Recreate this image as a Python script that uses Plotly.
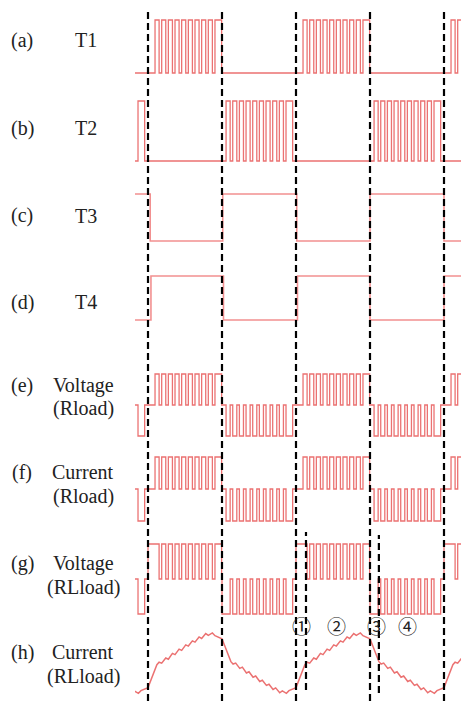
import plotly.graph_objects as go

# ---------------- data (time in half-periods; dashed lines at 0..4) ----------------
# one half-cycle PWM pattern of the upper switches
pulse_on = [0.095, 0.185, 0.275, 0.365, 0.455, 0.545, 0.635, 0.725, 0.815, 0.905]
pulse_off = [0.150, 0.240, 0.330, 0.420, 0.510, 0.600, 0.690, 0.780, 0.870, 0.995]
t2_shift = -0.04                      # T2 pattern is slightly earlier
half_starts = [-1, 0, 1, 2, 3, 4]    # start of each half cycle
half_sign = [-1, 1, -1, 1, -1, 1]    # +1 positive half (T1), -1 negative half (T2)

# T3 / T4 switching instants
t3_edges = [0.03, 1.01, 2.01, 3.00, 4.00]   # T3: high -> low -> high ...
t4_edges = [0.04, 1.02, 2.02, 3.00, 4.00]   # T4: low -> high -> low ...

# RL-load current over one positive half cycle (vertices)
cur_t = [0.00, 0.12, 0.15, 0.185, 0.24, 0.275, 0.33, 0.365, 0.42, 0.455, 0.51,
         0.545, 0.60, 0.635, 0.69, 0.725, 0.78, 0.815, 0.87, 0.905, 0.995]
cur_i = [-0.80, -0.05, 0.03, 0.00, 0.17, 0.13, 0.32, 0.28, 0.46, 0.42, 0.60,
         0.56, 0.73, 0.69, 0.86, 0.81, 0.97, 0.91, 0.99, 0.90, 0.80]

row_tags = ["(a)", "(b)", "(c)", "(d)", "(e)", "(f)", "(g)", "(h)"]
row_names = [["T1"], ["T2"], ["T3"], ["T4"], ["Voltage", "(Rload)"],
             ["Current", "(Rload)"], ["Voltage", "(RLload)"], ["Current", "(RLload)"]]
circled = ["①", "②", "③", "④"]
circled_t = [2.07, 2.55, 3.09, 3.50]
short_dash_t = [2.135, 3.12]

# ---------------- layout constants ----------------
W, H = 461, 701
X0PX, X1PX = 135, 461
T_LEFT, T_RIGHT = (135 - 148) / 74, (461 - 148) / 74
# (value_low, value_high, pixel_of_low, pixel_of_high)
rows = [
    (0, 1, 73, 20),
    (0, 1, 161, 101),
    (0, 1, 241, 194),
    (0, 1, 320, 276),
    (-1, 1, 436, 374),
    (-1, 1, 521, 457),
    (-1, 1, 614, 544),
    (-1, 1, 697, 633),
]
tag_y = [40, 128, 216, 302, 385, 472, 563, 652]
name_y = [[40], [128], [216], [302], [385, 408], [472, 496], [563, 587], [652, 676]]

RED = "#eb7272"
LIGHT = "#f29090"


def paper(ypx):
    return 1 - ypx / H


def pwm_trace(kind):
    """kind: 't1', 't2', 'e', 'g'"""
    xs, ys = [T_LEFT - 0.1], [0]
    for s, sg in zip(half_starts, half_sign):
        if kind == "t1" and sg < 0:
            continue
        if kind == "t2" and sg > 0:
            continue
        shift = 0 if sg > 0 else t2_shift
        lvl = 1 if kind in ("t1", "t2") else sg
        for k, (on, off) in enumerate(zip(pulse_on, pulse_off)):
            a, b = s + on + shift, s + off + shift
            if kind == "g" and k == 0:
                a = s
            if a < T_LEFT:          # recording starts at the left edge
                continue
            xs += [a, a, b, b]
            ys += [0, lvl, lvl, 0]
    xs.append(T_RIGHT + 0.1)
    ys.append(0)
    return xs, ys


def square_trace(edges, start_high):
    xs, ys = [T_LEFT - 0.1], [1 if start_high else 0]
    lvl = ys[0]
    for e in edges:
        xs += [e, e]
        ys += [lvl, 1 - lvl]
        lvl = 1 - lvl
    xs.append(T_RIGHT + 0.1)
    ys.append(lvl)
    return xs, ys


def current_trace():
    xs, ys = [], []
    for s, sg in zip(half_starts, half_sign):
        for t, i in zip(cur_t, cur_i):
            xs.append(s + t)
            ys.append(sg * i)
    return xs, ys


fig = go.Figure()
traces = [
    (pwm_trace("t1"), RED, 1.3),
    (pwm_trace("t2"), RED, 1.3),
    (square_trace(t3_edges, True), LIGHT, 1.6),
    (square_trace(t4_edges, False), LIGHT, 1.6),
    (pwm_trace("e"), RED, 1.3),
    (pwm_trace("e"), RED, 1.3),
    (pwm_trace("g"), RED, 1.3),
    (current_trace(), RED, 1.5),
]
for k, ((xs, ys), col, w) in enumerate(traces):
    fig.add_trace(go.Scatter(x=xs, y=ys, mode="lines", line=dict(color=col, width=w),
                             xaxis="x", yaxis="y" if k == 0 else f"y{k+1}",
                             hoverinfo="skip", showlegend=False))

layout = dict(
    width=W, height=H, margin=dict(l=0, r=0, t=0, b=0),
    paper_bgcolor="white", plot_bgcolor="rgba(0,0,0,0)",
    xaxis=dict(domain=[X0PX / W, X1PX / W], range=[T_LEFT, T_RIGHT], visible=False,
               fixedrange=True),
)
for k, (vlo, vhi, plo, phi) in enumerate(rows):
    pad = 0.12 * (vhi - vlo)
    pxpad = 0.12 * (plo - phi)
    dom = [max(0, paper(plo + pxpad)), min(1, paper(phi - pxpad))]
    name = "yaxis" if k == 0 else f"yaxis{k+1}"
    layout[name] = dict(domain=dom, range=[vlo - pad, vhi + pad], visible=False,
                        anchor="x", fixedrange=True)
fig.update_layout(**layout)

# dashed vertical lines
for t in [0, 1, 2, 3, 4]:
    fig.add_shape(type="line", xref="x", yref="paper", x0=t, x1=t,
                  y0=0, y1=paper(10),
                  line=dict(color="black", width=2.2, dash="7px,4px"))
for t, (ya, yb) in zip(short_dash_t, [(532, 690), (535, 693)]):
    fig.add_shape(type="line", xref="x", yref="paper", x0=t, x1=t,
                  y0=paper(yb), y1=paper(ya),
                  line=dict(color="black", width=2.2, dash="7px,4px"))

# row labels
FONT = "Liberation Serif"
for tag, ty, names, ny in zip(row_tags, tag_y, row_names, name_y):
    fig.add_annotation(text=tag, xref="paper", yref="paper", x=22 / W, y=paper(ty),
                       showarrow=False, xanchor="center", yanchor="middle",
                       font=dict(family=FONT, size=20, color="#222"))
    for nm, yy in zip(names, ny):
        fig.add_annotation(text=nm, xref="paper", yref="paper",
                           x=(86 if len(names) == 1 else 83) / W, y=paper(yy),
                           showarrow=False, xanchor="center", yanchor="middle",
                           font=dict(family=FONT, size=20, color="#222"))

# circled interval numbers
for c, t in zip(circled, circled_t):
    fig.add_annotation(text=c, xref="x", yref="paper", x=t, y=paper(625),
                       showarrow=False, xanchor="center", yanchor="middle",
                       font=dict(family="Noto Sans CJK JP", size=19, color="#222"))

fig.write_html("out.html", config={"displayModeBar": False},
               post_script="document.body.style.margin='0';")
